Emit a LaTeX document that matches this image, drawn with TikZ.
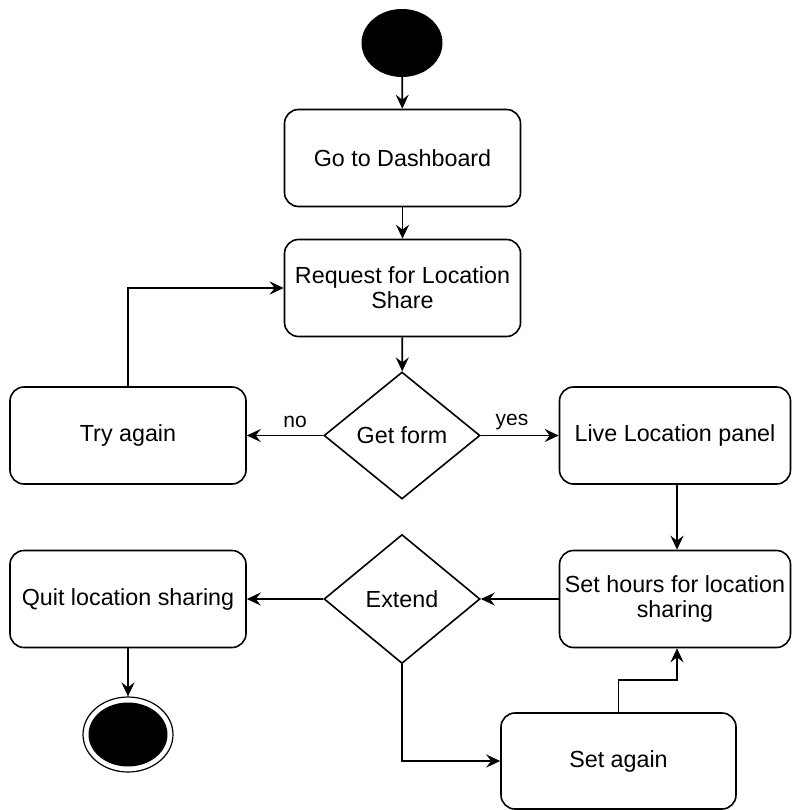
\documentclass[tikz,border=0pt]{standalone}
\usepackage{fontspec}
\setmainfont{Liberation Sans}
\usetikzlibrary{shapes.geometric,arrows.meta}
\tikzset{
  act/.style={draw, line width=1.6pt, rounded corners=14pt, fill=white, align=center,
    minimum width=236pt, minimum height=97pt, inner sep=2pt,
    font=\fontsize{23.3}{25}\selectfont},
  dec/.style={draw, diamond, line width=1.6pt, fill=white, inner sep=0pt, aspect=1.24,
    minimum width=156pt, minimum height=127pt, font=\fontsize{23.3}{25}\selectfont},
  flow/.style={line width=1.8pt, -{Stealth[length=14pt,width=13pt,inset=5pt]}},
  lbl/.style={font=\fontsize{21}{24}\selectfont, inner sep=0pt}
}
\begin{document}
\begin{tikzpicture}[x=1pt,y=-1pt]
\useasboundingbox (0,0) rectangle (792,810);
% start
\node[ellipse, fill=black, draw, line width=1pt, minimum width=80pt, minimum height=67pt, inner sep=0pt] (start) at (402,43) {};
% activities
\node[act] (go) at (402.5,158) {Go to Dashboard};
\node[act] (req) at (402.5,288) {Request for Location\\Share};
\node[dec] (get) at (402,435.5) {Get form};
\node[act] (try) at (128,435.5) {Try again};
\node[act, minimum width=231pt] (live) at (675,435.5) {Live Location panel};
\node[act, minimum width=231pt] (hours) at (675,599) {Set hours for location\\sharing};
\node[dec, minimum height=129pt] (ext) at (402,599) {Extend};
\node[act] (quit) at (128,599) {Quit location sharing};
\node[act, minimum width=235pt, minimum height=96pt] (again) at (618.5,761) {Set again};
% end
\node[ellipse, draw, line width=1.2pt, fill=white, minimum width=90pt, minimum height=75pt, inner sep=0pt] (endo) at (128,734.5) {};
\node[ellipse, fill=black, minimum width=79pt, minimum height=64pt, inner sep=0pt] (endi) at (128,734.5) {};
% connectors
\draw[flow] (start) -- (go);
\draw[flow] (go) -- (req);
\draw[flow] (req) -- (get);
\draw[flow] (get.west) -- (try.east);
\node[lbl] (no) at (295,422) {no};
\draw[flow] (get.east) -- (live.west);
\node[lbl] (yes) at (512,422) {yes};
\draw[flow] (try.north) |- (req.west);
\draw[flow] (live.south -| 677,0) -- (hours.north -| 677,0);
\draw[flow] (hours.west) -- (ext.east);
\draw[flow] (ext.west) -- (quit.east);
\draw[flow] (quit.south) -- (endo.north);
\draw[flow] (ext.south) |- (again.west);
\draw[flow] (again.north) -- ++(0,-32) -| (hours.south -| 677,0);
\end{tikzpicture}
\end{document}
